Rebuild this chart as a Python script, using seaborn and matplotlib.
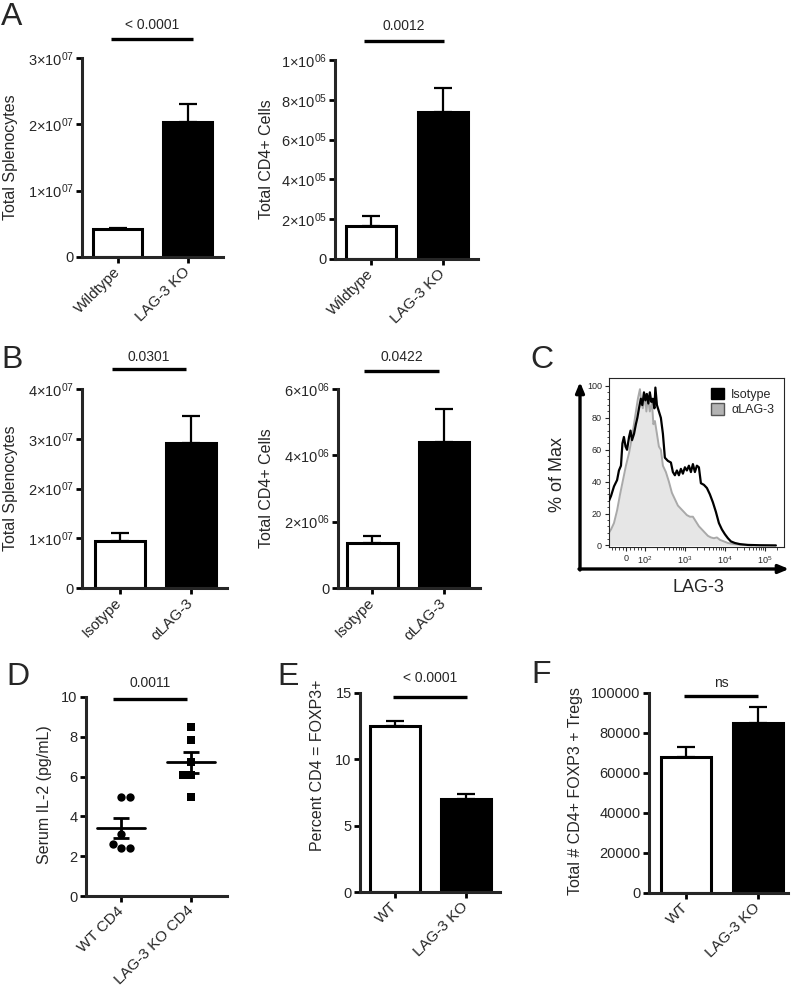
import numpy as np
import pandas as pd
import seaborn as sns
import matplotlib
matplotlib.use("Agg")
import matplotlib.pyplot as plt
from matplotlib.patches import Patch
from matplotlib.ticker import FixedLocator, FuncFormatter
from matplotlib.transforms import blended_transform_factory

# ---- data ----
a_groups = ["Wildtype", "LAG-3 KO"]
a_spleno_mean = [4.2e6, 2.03e7]
a_spleno_sem = [0.2e6, 0.28e7]
a_cd4_mean = [1.66e5, 7.39e5]
a_cd4_sem = [0.5e5, 1.21e5]

b_groups = ["Isotype", "αLAG-3"]
b_spleno_mean = [9.5e6, 2.91e7]
b_spleno_sem = [1.5e6, 5.5e6]
b_cd4_mean = [1.36e6, 4.4e6]
b_cd4_sem = [0.21e6, 1.0e6]

# flow histogram (LAG-3 intensity, % of max)
c_iso_x = [-95, -84, -68, -51, -41, -30, -22, -14, -5, 3, 14, 22, 30, 41, 51, 59, 68, 78, 86, 95,
           103, 112, 122, 133, 145, 158, 173, 183, 200, 224, 251, 282, 316, 376, 447, 501, 562, 631,
           708, 794, 891, 1000, 1122, 1259, 1413, 1585, 1778, 1995, 2239, 2512, 2985, 3548, 4217,
           5012, 5957, 7079, 8414, 10000, 11885, 14125, 17783, 23714, 37584, 74989, 188365]
c_iso_y = [28, 31, 37, 41, 47, 50, 64, 68, 62, 60, 68, 72, 66, 70, 76, 80, 86, 92, 88, 96,
           91, 95, 89, 96, 90, 92, 86, 99, 88, 84, 80, 70, 55, 53, 52, 46, 44, 47,
           44, 48, 45, 49, 47, 50, 46, 51, 46, 50, 49, 39, 38, 36, 32,
           27, 21, 14, 10, 7, 4.5, 2.5, 1.5, 0.8, 0.3, 0.1, 0]
c_alag_x = [-95, -84, -68, -51, -35, -19, -3, 14, 30, 46, 62, 73, 81, 89, 100, 109, 119, 133, 150,
            163, 178, 200, 224, 251, 282, 335, 398, 473, 562, 668, 794, 944, 1122, 1334, 1585, 1884,
            2239, 2661, 3162, 3758, 4467, 5309, 6310, 7499, 9441, 11885, 16788, 26607, 47315]
c_alag_y = [8, 10, 14, 22, 32, 41, 50, 58, 68, 80, 92, 98, 90, 86, 95, 84, 93, 84, 90,
            76, 78, 70, 62, 60, 50, 46, 40, 33, 29, 25, 23, 21, 19, 18, 18, 15,
            12, 10, 8, 6, 5, 4.5, 5, 3.5, 2.5, 1.5, 0.8, 0.3, 0]

d_groups = ["WT CD4", "LAG-3 KO CD4"]
d_wt = [5.0, 5.0, 3.1, 2.6, 2.4, 2.4]
d_ko = [8.5, 7.85, 6.75, 6.1, 6.1, 5.0]

e_groups = ["WT", "LAG-3 KO"]
e_mean = [12.5, 7.0]
e_sem = [0.4, 0.36]

f_groups = ["WT", "LAG-3 KO"]
f_mean = [67800, 85000]
f_sem = [5000, 8200]

# ---- style ----
sns.set_style("ticks")
plt.rcParams["font.family"] = ["Liberation Sans", "DejaVu Sans"]
plt.rcParams["mathtext.fontset"] = "custom"
plt.rcParams["mathtext.rm"] = "Liberation Sans"
plt.rcParams["mathtext.it"] = "Liberation Sans:italic"
plt.rcParams["mathtext.bf"] = "Liberation Sans:bold"

W, H = 795, 989
fig = plt.figure(figsize=(W / 100, H / 100), dpi=100)


def place(x0, x1, ytop, ybot):
    return fig.add_axes([x0 / W, 1 - ybot / H, (x1 - x0) / W, (ybot - ytop) / H])


def sci_label(v, pos=None):
    if v == 0:
        return "0"
    e = int(np.floor(np.log10(v) + 1e-9))
    m = int(round(v / 10 ** e))
    return rf"${m}{{\times}}10^{{{e:02d}}}$"


def style_axis(ax, ylabel, label_xy, xlim):
    sns.despine(ax=ax)
    ax.spines["left"].set_linewidth(2.2)
    ax.spines["bottom"].set_linewidth(2.2)
    ax.tick_params(width=2, length=4, labelsize=10.5, pad=2, color="black")
    ax.tick_params(axis="x", pad=5)
    ax.set_xlim(xlim)
    ax.set_xlabel("")
    ax.set_ylabel(ylabel, fontsize=11.5)
    ax.yaxis.set_label_coords(*label_xy)
    for lbl in ax.get_xticklabels():
        lbl.set_rotation(45)
        lbl.set_ha("right")
        lbl.set_va("center")
        lbl.set_rotation_mode("anchor")
        lbl.set_fontsize(11)


def bar_panel(ax, groups, means, sems, ylim, yticks, ylabel, label_xy, xlim, sci=False):
    df = pd.DataFrame({"group": groups, "value": means})
    sns.barplot(data=df, x="group", y="value", hue="group", palette=["white", "black"],
                edgecolor="black", linewidth=2.2, width=0.7, saturation=1, legend=False, ax=ax)
    ax.errorbar(range(len(groups)), means, yerr=[np.zeros(len(sems)), sems], fmt="none",
                ecolor="black", elinewidth=1.6, capsize=6.5, capthick=1.6, zorder=0)
    ax.set_ylim(ylim)
    ax.set_yticks(yticks)
    if sci:
        ax.yaxis.set_major_formatter(FuncFormatter(sci_label))
    style_axis(ax, ylabel, label_xy, xlim)


def sig(ax, x0, x1, yline, ytext, label):
    tr = blended_transform_factory(ax.transData, ax.transAxes)
    ax.plot([x0, x1], [yline, yline], transform=tr, color="black", lw=2.4, clip_on=False,
            solid_capstyle="butt")
    ax.text((x0 + x1) / 2, ytext, label, transform=tr, ha="center", va="center", fontsize=10)


# ---- A ----
ax = place(82, 223, 58, 257)
bar_panel(ax, a_groups, a_spleno_mean, a_spleno_sem, (0, 3e7), [0, 1e7, 2e7, 3e7],
          "Total Splenocytes", (-0.455, 0.5), (-0.51, 1.5), sci=True)
sig(ax, -0.1, 1.07, 1.095, 1.166, "< 0.0001")

ax = place(335, 478, 60, 259)
bar_panel(ax, a_groups, a_cd4_mean, a_cd4_sem, (0, 1e6), [0, 2e5, 4e5, 6e5, 8e5, 1e6],
          "Total CD4+ Cells", (-0.43, 0.5), (-0.51, 1.49), sci=True)
sig(ax, -0.11, 1.01, 1.095, 1.17, "0.0012")

# ---- B ----
ax = place(82, 227, 389, 588)
bar_panel(ax, b_groups, b_spleno_mean, b_spleno_sem, (0, 4e7), [0, 1e7, 2e7, 3e7, 4e7],
          "Total Splenocytes", (-0.44, 0.5), (-0.53, 1.51), sci=True)
sig(ax, -0.11, 0.93, 1.10, 1.162, "0.0301")

ax = place(338, 480, 389, 588)
bar_panel(ax, b_groups, b_cd4_mean, b_cd4_sem, (0, 6e6), [0, 2e6, 4e6, 6e6],
          "Total CD4+ Cells", (-0.45, 0.5), (-0.48, 1.5), sci=True)
sig(ax, -0.12, 0.93, 1.09, 1.16, "0.0422")

# ---- C ----
ax = place(609, 784, 378, 547)
ax.fill_between(c_alag_x, c_alag_y, 0, color="#e6e6e6", lw=0, zorder=1)
ax.plot(c_iso_x, c_iso_y, color="black", lw=1.6, zorder=3)
ax.plot(c_alag_x, c_alag_y, color="#a9a9a9", lw=1.4, zorder=2)
ax.set_xscale("symlog", linthresh=100, linscale=0.414)
ax.set_xlim(-95, 3e5)
ax.set_ylim(-1, 105)
ax.set_xticks([0, 1e2, 1e3, 1e4, 1e5])
ax.set_xticklabels(["0", r"$10^2$", r"$10^3$", r"$10^4$", r"$10^5$"])
minor_x = [-80, -60, -40, -20, 20, 40, 60, 80]
for dec in [1e2, 1e3, 1e4, 1e5]:
    minor_x += [k * dec for k in range(2, 10) if k * dec < 3e5]
ax.xaxis.set_minor_locator(FixedLocator(minor_x))
ax.set_yticks([0, 20, 40, 60, 80, 100])
ax.yaxis.set_minor_locator(FixedLocator(list(range(4, 104, 4))))
for s in ax.spines.values():
    s.set_linewidth(0.8)
    s.set_visible(True)
ax.tick_params(which="major", length=3, width=0.8, labelsize=6.5, pad=2)
ax.tick_params(which="minor", length=1.8, width=0.6)
ax.legend(handles=[Patch(facecolor="black", edgecolor="black", label="Isotype"),
                   Patch(facecolor="#b3b3b3", edgecolor="#555555", label="αLAG-3")],
          loc="upper right", frameon=False, fontsize=9, handlelength=1.0, handleheight=1.0,
          handletextpad=0.6, labelspacing=0.2, borderaxespad=0.4)
ax.annotate("", xy=(580 / W, 1 - 382 / H), xytext=(580 / W, 1 - 570 / H),
            xycoords="figure fraction", textcoords="figure fraction",
            arrowprops=dict(arrowstyle="-|>,head_length=0.6,head_width=0.25", lw=2.4, color="black",
                            shrinkA=0, shrinkB=0))
ax.annotate("", xy=(789 / W, 1 - 569 / H), xytext=(579 / W, 1 - 569 / H),
            xycoords="figure fraction", textcoords="figure fraction",
            arrowprops=dict(arrowstyle="-|>,head_length=0.6,head_width=0.25", lw=2.4, color="black",
                            shrinkA=0, shrinkB=0))
fig.text(557 / W, 1 - 474 / H, "% of Max", rotation=90, ha="center", va="center", fontsize=13)
fig.text(698 / W, 1 - 588 / H, "LAG-3", ha="center", va="center", fontsize=13)

# ---- D ----
ax = place(86, 227, 697, 896)
d_df = pd.DataFrame({"group": [d_groups[0]] * len(d_wt) + [d_groups[1]] * len(d_ko),
                     "value": d_wt + d_ko})
sns.swarmplot(data=d_df[d_df.group == d_groups[0]], x="group", y="value", order=d_groups,
              color="black", marker="o", size=6, ax=ax)
sns.swarmplot(data=d_df[d_df.group == d_groups[1]], x="group", y="value", order=d_groups,
              color="black", marker="s", size=5.5, ax=ax)
for i, vals in enumerate([d_wt, d_ko]):
    m = np.mean(vals)
    se = np.std(vals, ddof=1) / np.sqrt(len(vals))
    ax.plot([i - 0.34, i + 0.34], [m, m], color="black", lw=2, zorder=4)
    ax.errorbar([i], [m], yerr=[[se], [se]], fmt="none", ecolor="black", elinewidth=2,
                capsize=6, capthick=2, zorder=4)
ax.set_ylim(0, 10)
ax.set_yticks([0, 2, 4, 6, 8, 10])
style_axis(ax, "Serum IL-2 (pg/mL)", (-0.24, 0.51), (-0.5, 1.51))
sig(ax, -0.11, 0.94, 0.99, 1.069, "0.0011")

# ---- E ----
ax = place(360, 500, 693, 892)
bar_panel(ax, e_groups, e_mean, e_sem, (0, 15), [0, 5, 10, 15],
          "Percent CD4 = FOXP3+", (-0.25, 0.636), (-0.49, 1.48))
sig(ax, -0.03, 1.01, 0.98, 1.074, "< 0.0001")

# ---- F ----
ax = place(649, 788, 693, 893)
bar_panel(ax, f_groups, f_mean, f_sem, (0, 100000), [0, 20000, 40000, 60000, 80000, 100000],
          "Total # CD4+ FOXP3 + Tregs", (-0.475, 0.51), (-0.51, 1.42))
sig(ax, -0.03, 1.01, 0.987, 1.05, "ns")

# ---- panel letters ----
for letter, x, y in [("A", 1, 25), ("B", 1, 368), ("C", 530, 368),
                     ("D", 6, 685), ("E", 277, 685), ("F", 531, 683)]:
    fig.text(x / W, 1 - y / H, letter, ha="left", va="baseline", fontsize=23)

fig.savefig("out.png", dpi=100)
